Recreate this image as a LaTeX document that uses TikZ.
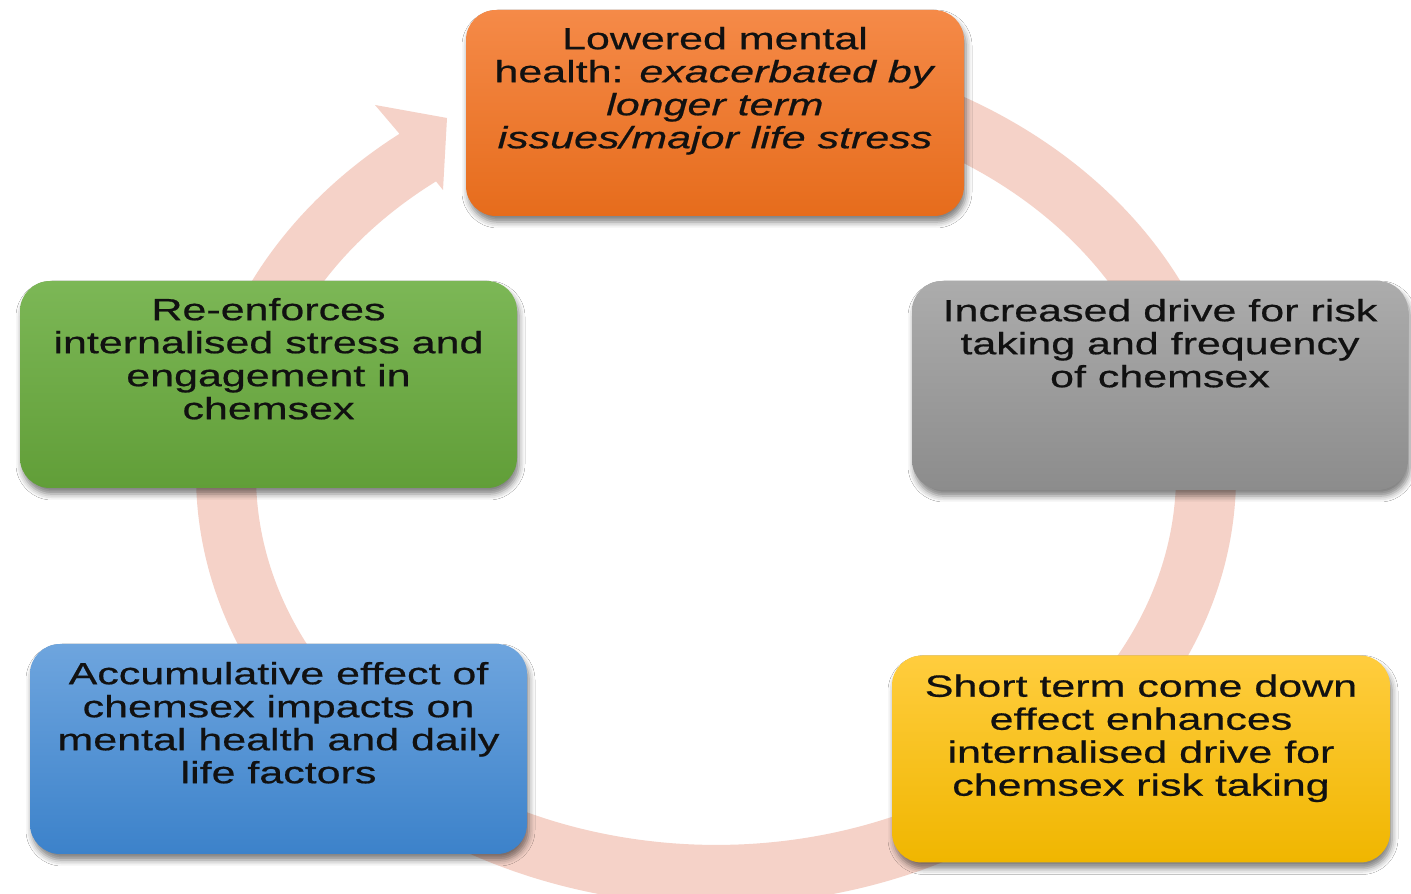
\documentclass[tikz,border=0pt]{standalone}
\usepackage{fontspec}
\newfontfamily\boxfont[FakeStretch=1.4,FakeBold=0.6]{Liberation Sans}
\usetikzlibrary{shadows.blur}

\definecolor{ringpink}{RGB}{245,210,200}
\definecolor{orangetop}{RGB}{245,138,72}
\definecolor{orangebot}{RGB}{230,108,28}
\definecolor{graytop}{RGB}{172,172,172}
\definecolor{graybot}{RGB}{140,140,140}
\definecolor{yellowtop}{RGB}{255,205,62}
\definecolor{yellowbot}{RGB}{240,182,0}
\definecolor{bluetop}{RGB}{110,165,222}
\definecolor{bluebot}{RGB}{60,130,202}
\definecolor{greentop}{RGB}{124,183,86}
\definecolor{greenbot}{RGB}{97,158,56}
\definecolor{inktext}{RGB}{17,17,17}

\begin{document}
\begin{tikzpicture}[x=1pt,y=1pt,
  stagebox/.style={rounded corners=30pt, minimum width=498pt, minimum height=207pt,
    inner sep=0pt, draw=none,
    blur shadow={shadow xshift=2pt, shadow yshift=-6pt, shadow blur radius=6pt, shadow opacity=50}},
  stagetext/.style={anchor=north, align=center, inner sep=0pt, text=inktext,
    font=\boxfont\fontsize{30.7}{33}\selectfont}
]
\useasboundingbox (0,0) rectangle (1411,894);
\fill[white] (0,0) rectangle (1411,894);

% circular arrow behind the stages (centre 716,419)
\coordinate (ringc) at (716,419);
\coordinate (tailout) at (670.7,847.4);
\coordinate (barbout) at (375,789);
\coordinate (tip) at (447,776);
\coordinate (barbin) at (443,704);
\coordinate (headin) at (436.0,712.6);
\fill[ringpink] (tailout)
  arc[start angle=95, end angle=-232.5, x radius=520, y radius=430]
  -- (barbout) -- (tip) -- (barbin) -- (headin)
  arc[start angle=-232.5, end angle=95, x radius=460, y radius=370]
  -- cycle;

% stages
\node[stagebox, top color=orangetop, bottom color=orangebot, minimum height=206pt] (top) at (715,781) {};
\node[stagebox, top color=graytop, bottom color=graybot, minimum width=496pt, minimum height=209pt] (right) at (1160,508.5) {};
\node[stagebox, top color=yellowtop, bottom color=yellowbot] (lowright) at (1141,135) {};
\node[stagebox, top color=bluetop, bottom color=bluebot, minimum width=497pt, minimum height=210pt] (lowleft) at (278.5,145) {};
\node[stagebox, top color=greentop, bottom color=greenbot, minimum width=497pt] (left) at (268.5,509.5) {};

\node[stagetext] (toptext) at ([yshift=-17pt]top.north)
  {Lowered mental\\health: \textit{exacerbated by}\\\textit{longer term}\\\textit{issues/major life stress}};
\node[stagetext] (righttext) at ([yshift=-18pt]right.north)
  {Increased drive for risk\\taking and frequency\\of chemsex};
\node[stagetext] (lowrighttext) at ([yshift=-19pt]lowright.north)
  {Short term come down\\effect enhances\\internalised drive for\\chemsex risk taking};
\node[stagetext] (lowlefttext) at ([yshift=-18pt]lowleft.north)
  {Accumulative effect of\\chemsex impacts on\\mental health and daily\\life factors};
\node[stagetext] (lefttext) at ([yshift=-17pt]left.north)
  {Re-enforces\\internalised stress and\\engagement in\\chemsex};
\end{tikzpicture}
\end{document}
